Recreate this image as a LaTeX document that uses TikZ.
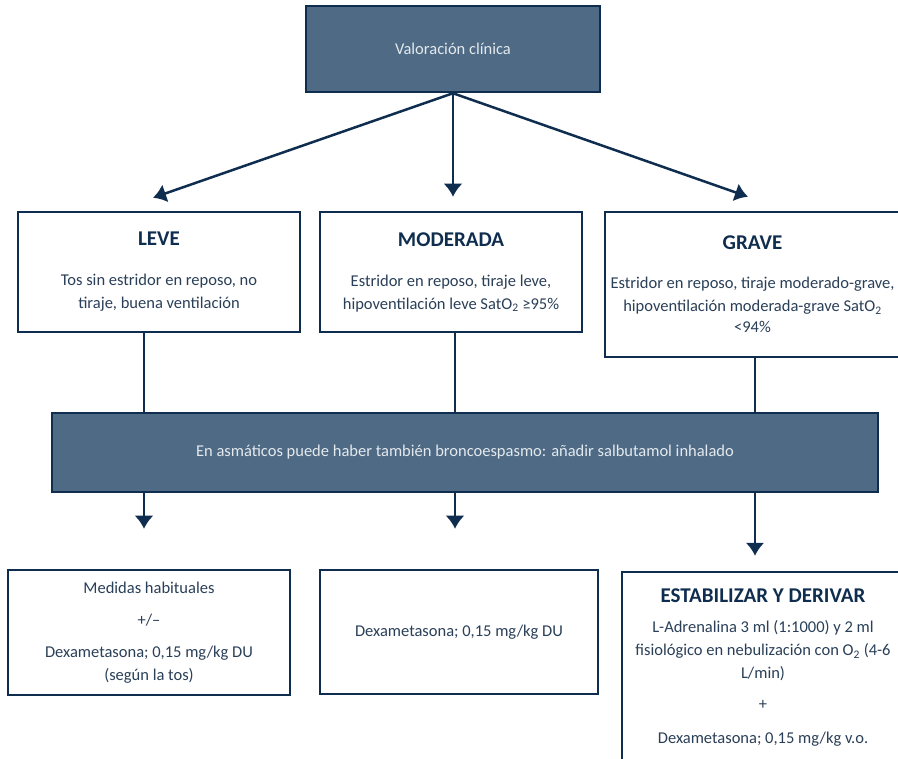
\documentclass[tikz,border=0pt]{standalone}
\usepackage{fontspec}
\setmainfont{Carlito}
\usetikzlibrary{arrows.meta}

\definecolor{navy}{HTML}{0F2D4E}
\definecolor{slate}{HTML}{4E6A84}
\definecolor{ink}{HTML}{2A3F58}
\definecolor{pale}{HTML}{E4E9EE}

\tikzset{
  darkbox/.style={draw=navy, line width=2.5pt, fill=slate, text=pale, align=center,
    inner sep=0pt, font=\fontsize{16.5}{23}\selectfont},
  lightbox/.style={draw=navy, line width=2.5pt, fill=white, text=ink, align=center,
    inner sep=0pt, font=\fontsize{16.5}{23}\selectfont},
  link/.style={draw=navy, line width=2.5pt},
}
\newcommand{\hd}[1]{{\fontsize{21}{24}\selectfont\bfseries\color{navy}#1}}

\begin{document}
\begin{tikzpicture}[x=1pt, y=-1pt, >={Latex[length=13pt,width=19pt]}]
        \useasboundingbox (0,0) rectangle (898,759);
        \clip (0,0) rectangle (898,759);

        \node[darkbox, minimum width=294pt, minimum height=86pt] (val) at (453,49) {Valoración clínica};
        \node[lightbox, minimum width=282pt, minimum height=120pt] (leve) at (159,272)
          {\hd{LEVE}\\[17pt] Tos sin estridor en reposo, no\\ tiraje, buena ventilación};
        \node[lightbox, minimum width=262pt, minimum height=120pt] (mod) at (451,272)
          {\hd{MODERADA}\\[17pt] Estridor en reposo, tiraje leve,\\ hipoventilación leve SatO\textsubscript{2} ≥95\%};
        \node[lightbox, minimum width=295pt, minimum height=145pt] (grave) at (752.5,284.5)
          {\hd{GRAVE}\\[16pt] Estridor en reposo, tiraje moderado-grave,\\ hipoventilación moderada-grave SatO\textsubscript{2}\\[-2pt] <94\%};
        \node[darkbox, minimum width=826pt, minimum height=79pt] (band) at (465,452.5)
          {En asmáticos puede haber también broncoespasmo: añadir salbutamol inhalado};
        \node[lightbox, minimum width=282pt, minimum height=125pt] (bl) at (149,632.5)
          {Medidas habituales\\[9pt] +/–\\[9pt] Dexametasona; 0,15 mg/kg DU\\ (según la tos)};
        \node[lightbox, minimum width=278pt, minimum height=124pt] (bm) at (459,632)
          {Dexametasona; 0,15 mg/kg DU};
        \node[lightbox, minimum width=282pt, minimum height=192pt] (br) at (763,668)
          {\hd{ESTABILIZAR Y DERIVAR}\\[7pt] L-Adrenalina 3 ml (1:1000) y 2 ml\\
           fisiológico en nebulización con O\textsubscript{2} (4-6\\ L/min)\\[8pt] +\\[11pt]
           Dexametasona; 0,15 mg/kg v.o.};

        \draw[link, ->] (val.south) -- ([shift={(-6,-13)}]leve.north);
        \draw[link, ->] (val.south) -- ([shift={(2,-14)}]mod.north);
        \draw[link, ->] (val.south) -- ([shift={(-4.5,-14)}]grave.north);

        \draw[link] ([xshift=-15pt]leve.south) -- ([xshift=-15pt]leve.south |- band.north);
        \draw[link] ([xshift=4pt]mod.south) -- ([xshift=4pt]mod.south |- band.north);
        \draw[link] ([xshift=2.5pt]grave.south) -- ([xshift=2.5pt]grave.south |- band.north);

        \draw[link, ->] ([xshift=-5pt]bl.north |- band.south) -- ([shift={(-5,-40)}]bl.north);
        \draw[link, ->] ([xshift=-4pt]bm.north |- band.south) -- ([shift={(-4,-40)}]bm.north);
        \draw[link, ->] ([xshift=-8pt]br.north |- band.south) -- ([shift={(-8,-15)}]br.north);
      \end{tikzpicture}
\end{document}
